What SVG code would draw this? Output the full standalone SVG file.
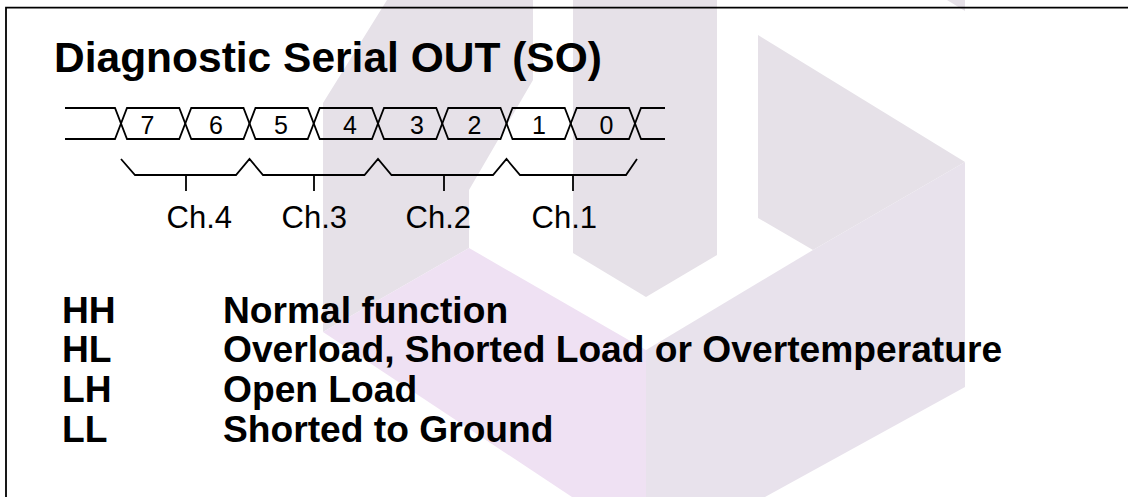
<svg xmlns="http://www.w3.org/2000/svg" width="1128" height="497" viewBox="0 0 1128 497">
<style>
  .wm-gray { fill: #e6e1e8; }
  .wm-pink { fill: #efe1f3; }
  .wm-lav { fill: #e8e2ec; }
  .line { fill: none; stroke: #000; stroke-width: 1.8; stroke-linejoin: miter; }
  .title { font-family: "Liberation Sans", Arial, sans-serif; font-weight: bold; font-size: 42.5px; fill: #000; }
  .bit { font-family: "Liberation Sans", Arial, sans-serif; font-size: 25px; fill: #000; text-anchor: middle; }
  .ch { font-family: "Liberation Sans", Arial, sans-serif; font-size: 31px; fill: #000; }
  .legend { font-family: "Liberation Sans", Arial, sans-serif; font-weight: bold; font-size: 37.2px; fill: #000; }
</style>
<rect x="0" y="0" width="1128" height="497" fill="#fff"/>
<g id="watermark">
  <polygon class="wm-gray" points="387,0 533,0 533,80 469,190 469,248 323,332 323,103"/>
  <polygon class="wm-gray" points="573,0 717,0 717,255 646,297 573,253"/>
  <polygon class="wm-gray" points="758,35 965,162 813,250 758,218"/>
  <polygon class="wm-gray" points="947,0 965,0 965,11"/>
  <polygon class="wm-pink" points="323,332 469,248 646,350 646,497 572,497"/>
  <polygon class="wm-lav" points="646,350 813,250 965,162 965,387 765,497 646,497"/>
</g>
<g id="frame">
  <path class="line" d="M6,497 V7.7 H1128" stroke-width="2"/>
</g>
<g id="title">
  <text class="title" x="54" y="72">Diagnostic Serial OUT (SO)</text>
</g>
<g id="bus">
  <path class="line" d="M65,108 H115 L127,139 H179.25 L191.25,108 H243.5 L255.5,139 H307.75 L319.75,108 H372 L384,139 H436.25 L448.25,108 H500.5 L512.5,139 H564.75 L576.75,108 H629 L641,139 H665"/>
  <path class="line" d="M65,139 H115 L127,108 H179.25 L191.25,139 H243.5 L255.5,108 H307.75 L319.75,139 H372 L384,108 H436.25 L448.25,139 H500.5 L512.5,108 H564.75 L576.75,139 H629 L641,108 H665"/>
  <text class="bit" x="147.5" y="134">7</text>
  <text class="bit" x="216" y="134">6</text>
  <text class="bit" x="281" y="134">5</text>
  <text class="bit" x="350" y="134">4</text>
  <text class="bit" x="417" y="134">3</text>
  <text class="bit" x="474.5" y="134">2</text>
  <text class="bit" x="539" y="134">1</text>
  <text class="bit" x="606.5" y="134">0</text>
</g>
<g id="connectors">
  <path class="line" d="M121,159 L135,175 H236 L249.5,159 L263,175 H364.5 L378,159 L391.5,175 H493 L506.5,159 L520,175 H626 L637,159"/>
  <path class="line" d="M186,175 V191 M314,175 V191 M444,175 V191 M573,175 V191"/>
</g>
<g id="channels">
  <text class="ch" x="166.5" y="228">Ch.4</text>
  <text class="ch" x="281.5" y="228">Ch.3</text>
  <text class="ch" x="405.5" y="228">Ch.2</text>
  <text class="ch" x="531.5" y="228">Ch.1</text>
</g>
<g id="legend">
  <text class="legend" x="62" y="322.5">HH</text>
  <text class="legend" x="223" y="322.5">Normal function</text>
  <text class="legend" x="62" y="362">HL</text>
  <text class="legend" x="223" y="362">Overload, Shorted Load or Overtemperature</text>
  <text class="legend" x="62" y="402">LH</text>
  <text class="legend" x="223" y="402">Open Load</text>
  <text class="legend" x="62" y="442">LL</text>
  <text class="legend" x="223" y="442">Shorted to Ground</text>
</g>
</svg>
